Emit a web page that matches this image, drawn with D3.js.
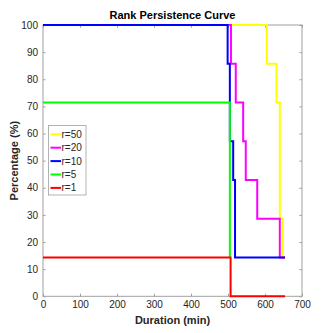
<!DOCTYPE html>
<html><head><meta charset="utf-8">
<script src="https://cdn.jsdelivr.net/npm/d3@7"></script>
<style>body{margin:0;background:#fff}svg{display:block}text{font-family:"Liberation Sans",Arial,sans-serif}</style>
</head><body>
<script>
const seriesNames = ["r=50","r=20","r=10","r=5","r=1"];
const seriesColors = ["#ffff00","#ff00ff","#0000ff","#00ff00","#ff0000"];
const r50 = [[0,100],[605,100],[605,85.71],[631,85.71],[631,71.43],[640,71.43],[640,28.57],[648,28.57],[648,14.29],[654,14.29]];
const r20 = [[0,100],[508,100],[508,85.71],[521,85.71],[521,71.43],[541,71.43],[541,57.14],[548,57.14],[548,42.86],[579,42.86],[579,28.57],[640,28.57],[640,14.29],[654,14.29]];
const r10 = [[0,100],[499,100],[499,85.71],[505,85.71],[505,57.14],[514,57.14],[514,42.86],[519,42.86],[519,14.29],[654,14.29]];
const r5 = [[0,71.43],[505,71.43],[505,14.29]];
const r1 = [[0,14.29],[507,14.29],[507,0],[654,0]];
const xTicks = [0,100,200,300,400,500,600,700];
const yTicks = [0,10,20,30,40,50,60,70,80,90,100];
const allSeries = [r50,r20,r10,r5,r1];

const W=333,H=333;
const m={l:43,r:31,t:25,b:36.7};
const svg=d3.select("body").append("svg").attr("width",W).attr("height",H);
const x=d3.scaleLinear().domain([0,700]).range([m.l,W-m.r]);
const y=d3.scaleLinear().domain([0,100]).range([H-m.b,m.t]);
const axisCol="#262626", boxCol="#a0a0a0";

// box
svg.append("rect").attr("x",m.l).attr("y",m.t).attr("width",x(700)-m.l).attr("height",y(0)-m.t)
  .attr("fill","#fff").attr("stroke",boxCol).attr("stroke-width",1);

const tl=2.6;
const g=svg.append("g");
function styleAxis(sel){
  sel.select(".domain").remove();
  sel.selectAll("line").attr("stroke",boxCol);
  sel.selectAll("text").attr("fill",axisCol).style("font-size","10px");
}
g.append("g").attr("transform",`translate(0,${y(0)})`).call(d3.axisBottom(x).tickValues(xTicks).tickSizeInner(-tl).tickSizeOuter(0).tickPadding(5)).call(styleAxis);
g.append("g").attr("transform",`translate(0,${y(100)})`).call(d3.axisTop(x).tickValues(xTicks).tickSizeInner(-tl).tickSizeOuter(0).tickFormat("")).call(styleAxis);
g.append("g").attr("transform",`translate(${x(0)},0)`).call(d3.axisLeft(y).tickValues(yTicks).tickSizeInner(-tl).tickSizeOuter(0).tickPadding(5)).call(styleAxis);
g.append("g").attr("transform",`translate(${x(700)},0)`).call(d3.axisRight(y).tickValues(yTicks).tickSizeInner(-tl).tickSizeOuter(0).tickFormat("")).call(styleAxis);

const line=d3.line().x(d=>x(d[0])).y(d=>y(d[1]));
allSeries.forEach((s,i)=>{
  svg.append("path").datum(s).attr("d",line).attr("fill","none").attr("stroke",seriesColors[i]).attr("stroke-width",2);
});

// title & labels
svg.append("text").attr("x",(x(0)+x(700))/2).attr("y",19).attr("text-anchor","middle")
  .style("font-size","11px").style("font-weight","bold").attr("fill","#000").text("Rank Persistence Curve");
svg.append("text").attr("x",(x(0)+x(700))/2).attr("y",324).attr("text-anchor","middle")
  .style("font-size","11px").style("font-weight","bold").attr("fill",axisCol).text("Duration (min)");
svg.append("text").attr("transform",`translate(18,${(y(0)+y(100))/2}) rotate(-90)`).attr("text-anchor","middle")
  .style("font-size","11px").style("font-weight","bold").attr("fill",axisCol).text("Percentage (%)");

// legend
const lg=svg.append("g");
lg.append("rect").attr("x",48.5).attr("y",125.5).attr("width",37.5).attr("height",69.5).attr("fill","#fff").attr("stroke","#a0a0a0").attr("stroke-width",0.8);
seriesNames.forEach((n,i)=>{
  const yy=134.3+i*13.4;
  lg.append("line").attr("x1",50.5).attr("x2",61).attr("y1",yy).attr("y2",yy).attr("stroke",seriesColors[i]).attr("stroke-width",2);
  lg.append("text").attr("x",61.5).attr("y",yy+3.5).style("font-size","10px").attr("fill",axisCol).text(n);
});
</script>
</body></html>
